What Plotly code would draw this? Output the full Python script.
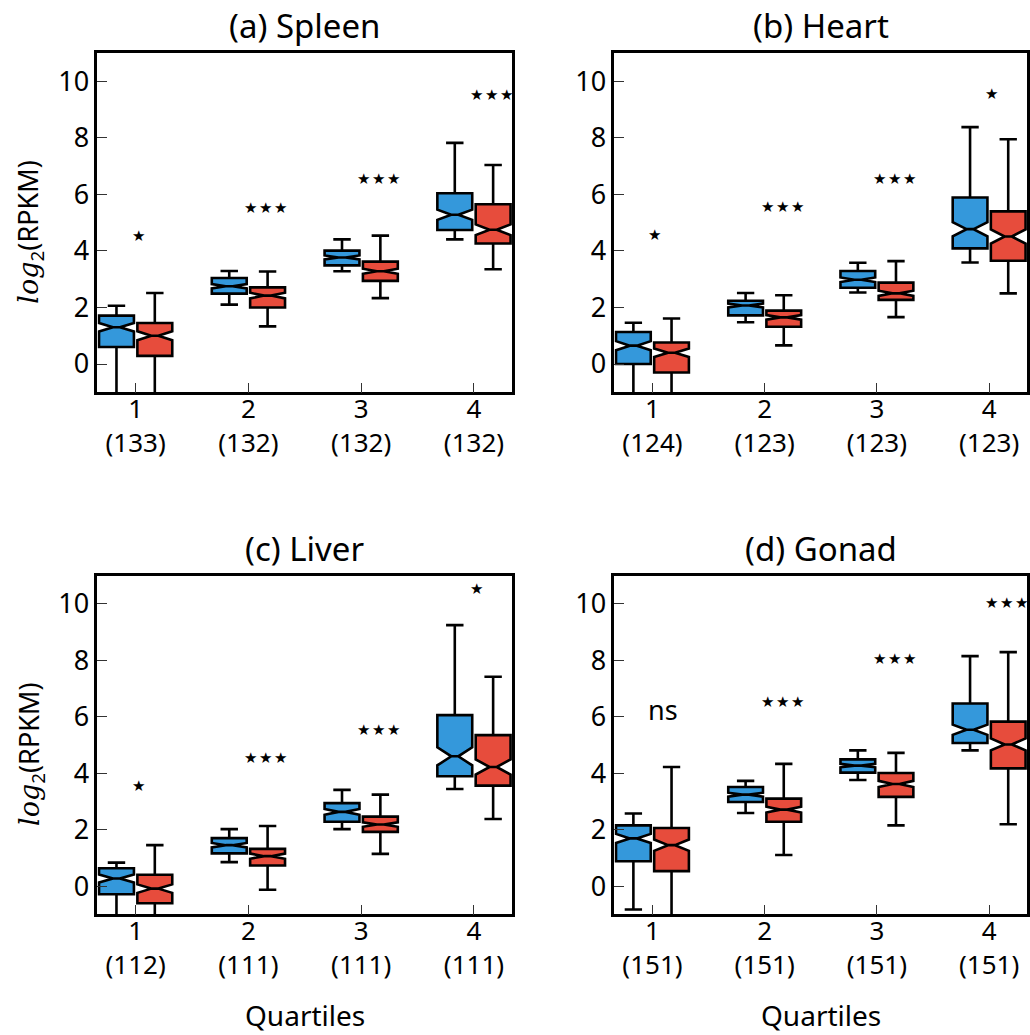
import plotly.graph_objects as go

W, H = 1030, 1035
quartiles = [1, 2, 3, 4]
panel_titles = ["(a) Spleen", "(b) Heart", "(c) Liver", "(d) Gonad"]
counts = [[133, 132, 132, 132], [124, 123, 123, 123], [112, 111, 111, 111], [151, 151, 151, 151]]

# Blue series (per panel, per quartile)
blue_upper = [[2.06, 3.29, 4.41, 7.82], [1.46, 2.51, 3.58, 8.38], [0.83, 2.02, 3.41, 9.25], [2.57, 3.73, 4.81, 8.15]]
blue_q3 = [[1.71, 3.04, 4.01, 6.04], [1.13, 2.24, 3.29, 5.89], [0.63, 1.70, 2.94, 6.06], [2.15, 3.51, 4.49, 6.47]]
blue_med = [[1.30, 2.75, 3.77, 5.28], [0.65, 2.07, 2.98, 4.77], [0.27, 1.45, 2.63, 4.60], [1.69, 3.24, 4.27, 5.54]]
blue_q1 = [[0.60, 2.49, 3.49, 4.74], [0.00, 1.72, 2.70, 4.09], [-0.29, 1.16, 2.28, 3.89], [0.88, 2.98, 4.02, 5.07]]
blue_lower = [[-1.8, 2.10, 3.28, 4.41], [-1.8, 1.48, 2.53, 3.59], [-1.8, 0.85, 2.02, 3.44], [-0.83, 2.59, 3.76, 4.81]]
blue_notch = [[0.15, 0.075, 0.07, 0.18], [0.16, 0.07, 0.08, 0.25], [0.14, 0.08, 0.10, 0.32], [0.16, 0.07, 0.06, 0.18]]

# Red series
red_upper = [[2.51, 3.27, 4.54, 7.04], [1.61, 2.43, 3.64, 7.95], [1.45, 2.13, 3.24, 7.42], [4.22, 4.33, 4.72, 8.29]]
red_q3 = [[1.45, 2.71, 3.62, 5.65], [0.76, 1.89, 2.88, 5.40], [0.40, 1.32, 2.46, 5.35], [2.06, 3.10, 4.01, 5.83]]
red_med = [[1.00, 2.42, 3.28, 4.75], [0.40, 1.65, 2.50, 4.51], [-0.09, 1.06, 2.18, 4.22], [1.45, 2.71, 3.62, 5.02]]
red_q1 = [[0.29, 2.00, 2.94, 4.26], [-0.30, 1.32, 2.27, 3.65], [-0.61, 0.73, 1.92, 3.56], [0.53, 2.28, 3.16, 4.17]]
red_lower = [[-1.8, 1.33, 2.33, 3.35], [-1.8, 0.66, 1.66, 2.50], [-1.8, -0.13, 1.14, 2.38], [-1.8, 1.10, 2.15, 2.19]]
red_notch = [[0.16, 0.10, 0.09, 0.19], [0.15, 0.08, 0.09, 0.25], [0.15, 0.09, 0.08, 0.27], [0.20, 0.10, 0.11, 0.21]]

# Significance labels and their heights
sig_labels = [["*", "***", "***", "***"], ["*", "***", "***", "*"], ["*", "***", "***", "*"], ["ns", "***", "***", "***"]]
sig_y = [[4.54, 5.53, 6.54, 9.53], [4.55, 5.54, 6.54, 9.54], [3.54, 4.54, 5.53, 10.52], [6.27, 6.53, 8.04, 10.04]]

BLUE = "#3498db"
RED = "#e74c3c"
FONT = "Noto Sans"

# plot area pixel boxes
col_px = [(97.3, 512.3), (614.3, 1027.3)]
row_px = [(53.0, 392.3), (575.7, 914.3)]

fig = go.Figure()
for p in range(4):
    r, c = divmod(p, 2)
    ax = "" if p == 0 else str(p + 1)
    for name, col, up, q3, md, q1, lo, nt in [
        ("blue", BLUE, blue_upper, blue_q3, blue_med, blue_q1, blue_lower, blue_notch),
        ("red", RED, red_upper, red_q3, red_med, red_q1, red_lower, red_notch),
    ]:
        fig.add_trace(go.Box(
            x=quartiles, q1=q1[p], median=md[p], q3=q3[p],
            lowerfence=lo[p], upperfence=up[p], notchspan=nt[p],
            notched=True, notchwidth=0.4, whiskerwidth=0.5,
            fillcolor=col, line=dict(color="black", width=2.6),
            boxpoints=False, name=name, offsetgroup=name,
            xaxis="x" + ax, yaxis="y" + ax, showlegend=False, hoverinfo="skip",
        ))
    x0, x1 = col_px[c]
    y0, y1 = row_px[r]
    xdom = [x0 / W, x1 / W]
    ydom = [1 - y1 / H, 1 - y0 / H]
    fig.layout["xaxis" + ax] = dict(
        domain=xdom, range=[0.66, 4.34], anchor="y" + ax,
        tickvals=quartiles,
        ticktext=[f"{q}<br>({n})" for q, n in zip(quartiles, counts[p])],
        ticks="inside", ticklen=10, tickwidth=1.2, tickcolor="#333",
        ticklabelstandoff=-8,
        showline=True, linewidth=2.5, linecolor="black", mirror=True,
        showgrid=False, zeroline=False,
        tickfont=dict(family=FONT, size=26, color="black"),
    )
    fig.layout["yaxis" + ax] = dict(
        domain=ydom, range=[-1, 11], anchor="x" + ax,
        tickvals=[0, 2, 4, 6, 8, 10],
        ticks="inside", ticklen=10, tickwidth=1.2, tickcolor="#333",
        showline=True, linewidth=2.5, linecolor="black", mirror=True,
        showgrid=False, zeroline=False,
        tickfont=dict(family=FONT, size=27, color="black"),
    )
    xc = (x0 + x1) / 2 / W
    fig.add_annotation(text=panel_titles[p], x=xc, y=1 - (y0 - 27) / H, xref="paper", yref="paper",
                       showarrow=False, xanchor="center", yanchor="middle",
                       font=dict(family=FONT, size=33, color="black"))
    if c == 0:
        fig.add_annotation(text="<i><span style='font-family:DejaVu Serif'>log</span></i><sub>2</sub>(RPKM)",
                           x=30 / W, y=1 - ((y0 + y1) / 2 + 9) / H,
                           xref="paper", yref="paper", textangle=-90, showarrow=False,
                           xanchor="center", yanchor="middle",
                           font=dict(family=FONT, size=27, color="black"))
    if r == 1:
        fig.add_annotation(text="Quartiles", x=xc, y=1 - 1015 / H, xref="paper", yref="paper",
                           showarrow=False, xanchor="center", yanchor="middle",
                           font=dict(family=FONT, size=28, color="black"))
    for q, lab, yy in zip(quartiles, sig_labels[p], sig_y[p]):
        is_star = lab != "ns"
        txt = "\u200a".join("\u2605" for _ in lab) if is_star else lab
        fig.add_annotation(text=txt, x=q, y=yy, xref="x" + ax, yref="y" + ax,
                           showarrow=False, xanchor="left", yanchor="middle", xshift=-6,
                           font=dict(family="DejaVu Sans" if is_star else FONT,
                                     size=15 if is_star else 27, color="black"))

fig.update_layout(
    width=W, height=H, margin=dict(l=0, r=0, t=0, b=0),
    paper_bgcolor="white", plot_bgcolor="white",
    boxmode="group", boxgap=0.32, boxgroupgap=0.09,
)
fig.write_html("out.html")
